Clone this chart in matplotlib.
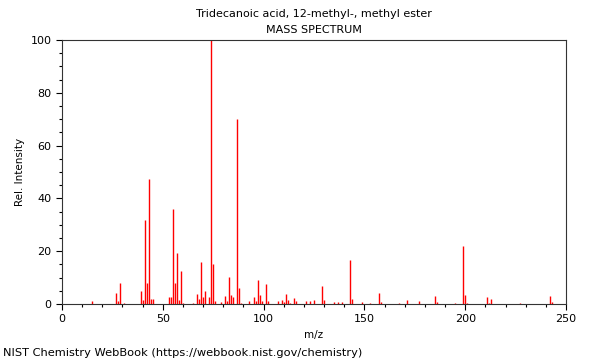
import matplotlib
matplotlib.use("Agg")
import matplotlib.pyplot as plt
from matplotlib.ticker import MultipleLocator

mz = [15, 27, 28, 29, 31, 39, 40, 41, 42, 43, 44, 45, 53, 54, 55, 56, 57, 58, 59, 60,
      65, 67, 68, 69, 70, 71, 73, 74, 75, 76, 79, 81, 82, 83, 84, 85, 87, 88, 89,
      93, 95, 96, 97, 98, 99, 101, 102, 107, 109, 110, 111, 112, 113, 115, 116,
      121, 123, 125, 129, 130, 135, 137, 139, 143, 144, 149, 153, 157, 158, 167,
      171, 177, 185, 186, 195, 199, 200, 201, 211, 212, 213, 227, 242, 243]
intensity = [1.0, 4.0, 1.0, 7.8, 0.5, 4.8, 1.4, 32.0, 7.8, 47.2, 1.8, 1.8, 2.5, 2.5, 36.0, 7.8, 19.2, 1.5, 12.6, 0.5,
             0.5, 3.8, 1.8, 16.0, 2.5, 5.0, 2.5, 100.0, 15.0, 1.0, 0.8, 3.0, 1.2, 10.4, 3.5, 2.8, 70.0, 6.0, 0.5,
             1.0, 2.8, 1.0, 9.0, 3.5, 1.0, 7.5, 1.0, 1.0, 1.5, 0.8, 3.8, 1.5, 0.5, 2.2, 1.2,
             1.0, 1.0, 1.5, 6.8, 1.5, 0.8, 0.8, 0.8, 16.7, 2.0, 0.8, 0.5, 4.0, 0.6, 0.5,
             1.5, 1.0, 3.0, 0.6, 0.5, 22.0, 3.3, 0.5, 2.5, 0.5, 2.0, 0.3, 3.0, 0.6]

title_lines = ["Tridecanoic acid, 12-methyl-, methyl ester", "MASS SPECTRUM"]
footer = "NIST Chemistry WebBook (https://webbook.nist.gov/chemistry)"

fig = plt.figure(figsize=(6, 3.6), dpi=100)
ax = fig.add_axes([62/600, 56/360, 504/600, 264/360])
ax.vlines(mz, 0, intensity, colors="#ff0000", linewidth=1.0)
ax.set_xlim(0, 250)
ax.set_ylim(0, 100)
ax.xaxis.set_major_locator(MultipleLocator(50))
ax.xaxis.set_minor_locator(MultipleLocator(10))
ax.yaxis.set_major_locator(MultipleLocator(20))
ax.yaxis.set_minor_locator(MultipleLocator(5))
ax.tick_params(which="both", direction="out", labelsize=8, width=0.8)
ax.tick_params(which="major", length=4)
ax.tick_params(which="minor", length=2)
ax.set_xlabel("m/z", fontsize=7.5)
ax.set_ylabel("Rel. Intensity", fontsize=7.5)
for s in ax.spines.values():
    s.set_linewidth(0.8)
    s.set_color("#333333")
fig.text(314/600, 1 - 14/360, title_lines[0], ha="center", va="center", fontsize=8)
fig.text(314/600, 1 - 30/360, title_lines[1], ha="center", va="center", fontsize=8)
fig.text(3/600, 1 - 353/360, footer, ha="left", va="center", fontsize=8.2)
fig.savefig("out.png", dpi=100)
